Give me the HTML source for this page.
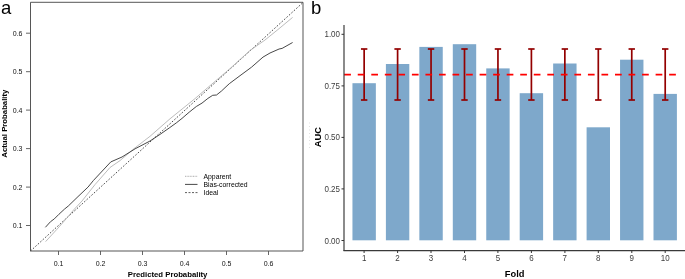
<!DOCTYPE html>
<html><head><meta charset="utf-8"><style>
html,body{margin:0;padding:0;background:#fff;}
body{width:685px;height:279px;overflow:hidden;}
svg{display:block;font-family:"Liberation Sans", sans-serif;}
svg{will-change:transform}
</style></head><body>
<svg width="685" height="279" viewBox="0 0 685 279">
<rect width="685" height="279" fill="#fff"/>
<path d="M30.5,2.3 H303 V251 H30.5 Z" fill="none" stroke="#4d4d4d" stroke-width="0.95"/>
<line x1="30.5" y1="251" x2="303" y2="2.5" stroke="#333" stroke-width="0.9" stroke-dasharray="1.6,1.7"/>
<polyline points="45.6,241.6 57.0,229.2 66.0,219.0 74.0,209.5 82.0,201.0 95.0,184.6 110.0,167.5 120.0,160.6 133.8,148.8 150.0,136.3 170.0,118.8 195.0,98.6 210.0,85.7 230.0,68.6 250.0,50.5 265.0,40.0 278.0,29.5 292.6,17.4" fill="none" stroke="#b4b4b4" stroke-width="0.9"/>
<polyline points="45.4,227.3 50.5,221.7 54.3,218.9 58.9,214.3 64.5,209.1 68.3,206.0 78.0,196.6 88.1,187.0 93.4,180.5 110.8,161.9 122.0,157.0 135.1,148.8 150.0,141.0 160.0,134.4 169.2,128.0 176.3,122.9 182.0,118.4 189.2,112.2 196.3,106.5 202.0,103.1 207.9,98.4 212.7,95.3 216.5,95.0 221.5,91.0 225.0,87.7 229.3,83.7 240.0,75.7 251.5,67.2 263.0,57.1 270.0,53.0 279.1,49.0 282.1,48.4 292.6,42.5" fill="none" stroke="#333" stroke-width="0.9"/>
<line x1="26" y1="225.5" x2="30.5" y2="225.5" stroke="#555" stroke-width="0.9"/>
<text x="22.5" y="228.0" text-anchor="end" font-size="7" fill="#111">0.1</text>
<line x1="26" y1="187.1" x2="30.5" y2="187.1" stroke="#555" stroke-width="0.9"/>
<text x="22.5" y="189.6" text-anchor="end" font-size="7" fill="#111">0.2</text>
<line x1="26" y1="148.6" x2="30.5" y2="148.6" stroke="#555" stroke-width="0.9"/>
<text x="22.5" y="151.1" text-anchor="end" font-size="7" fill="#111">0.3</text>
<line x1="26" y1="110.1" x2="30.5" y2="110.1" stroke="#555" stroke-width="0.9"/>
<text x="22.5" y="112.6" text-anchor="end" font-size="7" fill="#111">0.4</text>
<line x1="26" y1="71.7" x2="30.5" y2="71.7" stroke="#555" stroke-width="0.9"/>
<text x="22.5" y="74.2" text-anchor="end" font-size="7" fill="#111">0.5</text>
<line x1="26" y1="33.2" x2="30.5" y2="33.2" stroke="#555" stroke-width="0.9"/>
<text x="22.5" y="35.8" text-anchor="end" font-size="7" fill="#111">0.6</text>
<line x1="58.5" y1="251" x2="58.5" y2="255" stroke="#555" stroke-width="0.9"/>
<text x="58.5" y="265.8" text-anchor="middle" font-size="7" fill="#111">0.1</text>
<line x1="100.5" y1="251" x2="100.5" y2="255" stroke="#555" stroke-width="0.9"/>
<text x="100.5" y="265.8" text-anchor="middle" font-size="7" fill="#111">0.2</text>
<line x1="142.5" y1="251" x2="142.5" y2="255" stroke="#555" stroke-width="0.9"/>
<text x="142.5" y="265.8" text-anchor="middle" font-size="7" fill="#111">0.3</text>
<line x1="184.5" y1="251" x2="184.5" y2="255" stroke="#555" stroke-width="0.9"/>
<text x="184.5" y="265.8" text-anchor="middle" font-size="7" fill="#111">0.4</text>
<line x1="226.5" y1="251" x2="226.5" y2="255" stroke="#555" stroke-width="0.9"/>
<text x="226.5" y="265.8" text-anchor="middle" font-size="7" fill="#111">0.5</text>
<line x1="268.5" y1="251" x2="268.5" y2="255" stroke="#555" stroke-width="0.9"/>
<text x="268.5" y="265.8" text-anchor="middle" font-size="7" fill="#111">0.6</text>
<text x="167.6" y="277" text-anchor="middle" font-size="7.75" font-weight="bold" fill="#000">Predicted Probabality</text>
<text transform="translate(6.6,123.65) rotate(-90)" text-anchor="middle" font-size="7.75" font-weight="bold" fill="#000">Actual Probabality</text>
<line x1="185" y1="176.3" x2="197.5" y2="176.3" stroke="#999" stroke-width="0.8" stroke-dasharray="1,0.6"/>
<line x1="185" y1="184.4" x2="197.5" y2="184.4" stroke="#333" stroke-width="0.9"/>
<line x1="185" y1="192.6" x2="197.5" y2="192.6" stroke="#333" stroke-width="0.8" stroke-dasharray="2,1.5"/>
<text x="203.5" y="178.6" font-size="6.85" fill="#000">Apparent</text>
<text x="203.5" y="186.8" font-size="6.85" fill="#000">Bias-corrected</text>
<text x="203.5" y="195.0" font-size="6.85" fill="#000">Ideal</text>
<text x="1.06" y="13.8" font-size="18.5" fill="#000">a</text>
<line x1="309.5" y1="122.5" x2="309.5" y2="148" stroke="#d8d8d8" stroke-width="0.8" stroke-dasharray="1,2.5"/>
<rect x="352.45" y="83.20" width="23.4" height="157.10" fill="#7EA8CB"/>
<rect x="385.90" y="64.00" width="23.4" height="176.30" fill="#7EA8CB"/>
<rect x="419.35" y="46.90" width="23.4" height="193.40" fill="#7EA8CB"/>
<rect x="452.80" y="44.20" width="23.4" height="196.10" fill="#7EA8CB"/>
<rect x="486.25" y="68.40" width="23.4" height="171.90" fill="#7EA8CB"/>
<rect x="519.70" y="93.20" width="23.4" height="147.10" fill="#7EA8CB"/>
<rect x="553.15" y="63.50" width="23.4" height="176.80" fill="#7EA8CB"/>
<rect x="586.60" y="127.30" width="23.4" height="113.00" fill="#7EA8CB"/>
<rect x="620.05" y="59.70" width="23.4" height="180.60" fill="#7EA8CB"/>
<rect x="653.50" y="93.90" width="23.4" height="146.40" fill="#7EA8CB"/>
<line x1="364.15" y1="49" x2="364.15" y2="100" stroke="#930000" stroke-width="1.7"/>
<line x1="360.95" y1="49" x2="367.35" y2="49" stroke="#930000" stroke-width="1.7"/>
<line x1="360.95" y1="100" x2="367.35" y2="100" stroke="#930000" stroke-width="1.7"/>
<line x1="397.60" y1="49" x2="397.60" y2="100" stroke="#930000" stroke-width="1.7"/>
<line x1="394.40" y1="49" x2="400.80" y2="49" stroke="#930000" stroke-width="1.7"/>
<line x1="394.40" y1="100" x2="400.80" y2="100" stroke="#930000" stroke-width="1.7"/>
<line x1="431.05" y1="49" x2="431.05" y2="100" stroke="#930000" stroke-width="1.7"/>
<line x1="427.85" y1="49" x2="434.25" y2="49" stroke="#930000" stroke-width="1.7"/>
<line x1="427.85" y1="100" x2="434.25" y2="100" stroke="#930000" stroke-width="1.7"/>
<line x1="464.50" y1="49" x2="464.50" y2="100" stroke="#930000" stroke-width="1.7"/>
<line x1="461.30" y1="49" x2="467.70" y2="49" stroke="#930000" stroke-width="1.7"/>
<line x1="461.30" y1="100" x2="467.70" y2="100" stroke="#930000" stroke-width="1.7"/>
<line x1="497.95" y1="49" x2="497.95" y2="100" stroke="#930000" stroke-width="1.7"/>
<line x1="494.75" y1="49" x2="501.15" y2="49" stroke="#930000" stroke-width="1.7"/>
<line x1="494.75" y1="100" x2="501.15" y2="100" stroke="#930000" stroke-width="1.7"/>
<line x1="531.40" y1="49" x2="531.40" y2="100" stroke="#930000" stroke-width="1.7"/>
<line x1="528.20" y1="49" x2="534.60" y2="49" stroke="#930000" stroke-width="1.7"/>
<line x1="528.20" y1="100" x2="534.60" y2="100" stroke="#930000" stroke-width="1.7"/>
<line x1="564.85" y1="49" x2="564.85" y2="100" stroke="#930000" stroke-width="1.7"/>
<line x1="561.65" y1="49" x2="568.05" y2="49" stroke="#930000" stroke-width="1.7"/>
<line x1="561.65" y1="100" x2="568.05" y2="100" stroke="#930000" stroke-width="1.7"/>
<line x1="598.30" y1="49" x2="598.30" y2="100" stroke="#930000" stroke-width="1.7"/>
<line x1="595.10" y1="49" x2="601.50" y2="49" stroke="#930000" stroke-width="1.7"/>
<line x1="595.10" y1="100" x2="601.50" y2="100" stroke="#930000" stroke-width="1.7"/>
<line x1="631.75" y1="49" x2="631.75" y2="100" stroke="#930000" stroke-width="1.7"/>
<line x1="628.55" y1="49" x2="634.95" y2="49" stroke="#930000" stroke-width="1.7"/>
<line x1="628.55" y1="100" x2="634.95" y2="100" stroke="#930000" stroke-width="1.7"/>
<line x1="665.20" y1="49" x2="665.20" y2="100" stroke="#930000" stroke-width="1.7"/>
<line x1="662.00" y1="49" x2="668.40" y2="49" stroke="#930000" stroke-width="1.7"/>
<line x1="662.00" y1="100" x2="668.40" y2="100" stroke="#930000" stroke-width="1.7"/>
<line x1="344.2" y1="74.6" x2="677" y2="74.6" stroke="#FF0000" stroke-width="1.7" stroke-dasharray="6.7,6.84"/>
<line x1="344.0" y1="25" x2="344.0" y2="251" stroke="#222" stroke-width="1.05"/>
<line x1="343.5" y1="250.55" x2="685" y2="250.55" stroke="#3a3a3a" stroke-width="1.3"/>
<line x1="341.5" y1="34.3" x2="344" y2="34.3" stroke="#333" stroke-width="1"/>
<text transform="translate(340.0,37.30) scale(0.93,1)" text-anchor="end" font-size="8.6" fill="#3d3d3d">1.00</text>
<line x1="341.5" y1="85.9" x2="344" y2="85.9" stroke="#333" stroke-width="1"/>
<text transform="translate(340.0,88.85) scale(0.93,1)" text-anchor="end" font-size="8.6" fill="#3d3d3d">0.75</text>
<line x1="341.5" y1="137.4" x2="344" y2="137.4" stroke="#333" stroke-width="1"/>
<text transform="translate(340.0,140.40) scale(0.93,1)" text-anchor="end" font-size="8.6" fill="#3d3d3d">0.50</text>
<line x1="341.5" y1="188.9" x2="344" y2="188.9" stroke="#333" stroke-width="1"/>
<text transform="translate(340.0,191.95) scale(0.93,1)" text-anchor="end" font-size="8.6" fill="#3d3d3d">0.25</text>
<line x1="341.5" y1="240.5" x2="344" y2="240.5" stroke="#333" stroke-width="1"/>
<text transform="translate(340.0,243.50) scale(0.93,1)" text-anchor="end" font-size="8.6" fill="#3d3d3d">0.00</text>
<line x1="364.1" y1="250.5" x2="364.1" y2="253" stroke="#333" stroke-width="1"/>
<text transform="translate(364.15,260.8) scale(0.93,1)" text-anchor="middle" font-size="8.6" fill="#3d3d3d">1</text>
<line x1="397.6" y1="250.5" x2="397.6" y2="253" stroke="#333" stroke-width="1"/>
<text transform="translate(397.60,260.8) scale(0.93,1)" text-anchor="middle" font-size="8.6" fill="#3d3d3d">2</text>
<line x1="431.0" y1="250.5" x2="431.0" y2="253" stroke="#333" stroke-width="1"/>
<text transform="translate(431.05,260.8) scale(0.93,1)" text-anchor="middle" font-size="8.6" fill="#3d3d3d">3</text>
<line x1="464.5" y1="250.5" x2="464.5" y2="253" stroke="#333" stroke-width="1"/>
<text transform="translate(464.50,260.8) scale(0.93,1)" text-anchor="middle" font-size="8.6" fill="#3d3d3d">4</text>
<line x1="497.9" y1="250.5" x2="497.9" y2="253" stroke="#333" stroke-width="1"/>
<text transform="translate(497.95,260.8) scale(0.93,1)" text-anchor="middle" font-size="8.6" fill="#3d3d3d">5</text>
<line x1="531.4" y1="250.5" x2="531.4" y2="253" stroke="#333" stroke-width="1"/>
<text transform="translate(531.40,260.8) scale(0.93,1)" text-anchor="middle" font-size="8.6" fill="#3d3d3d">6</text>
<line x1="564.9" y1="250.5" x2="564.9" y2="253" stroke="#333" stroke-width="1"/>
<text transform="translate(564.85,260.8) scale(0.93,1)" text-anchor="middle" font-size="8.6" fill="#3d3d3d">7</text>
<line x1="598.3" y1="250.5" x2="598.3" y2="253" stroke="#333" stroke-width="1"/>
<text transform="translate(598.30,260.8) scale(0.93,1)" text-anchor="middle" font-size="8.6" fill="#3d3d3d">8</text>
<line x1="631.8" y1="250.5" x2="631.8" y2="253" stroke="#333" stroke-width="1"/>
<text transform="translate(631.75,260.8) scale(0.93,1)" text-anchor="middle" font-size="8.6" fill="#3d3d3d">9</text>
<line x1="665.2" y1="250.5" x2="665.2" y2="253" stroke="#333" stroke-width="1"/>
<text transform="translate(665.20,260.8) scale(0.93,1)" text-anchor="middle" font-size="8.6" fill="#3d3d3d">10</text>
<text x="514.6" y="276.8" text-anchor="middle" font-size="9.3" font-weight="bold" fill="#000">Fold</text>
<text transform="translate(320.5,137.2) rotate(-90)" text-anchor="middle" font-size="9.3" font-weight="bold" fill="#000">AUC</text>
<text x="311.1" y="13.8" font-size="18.5" fill="#000">b</text>
</svg>
</body></html>
